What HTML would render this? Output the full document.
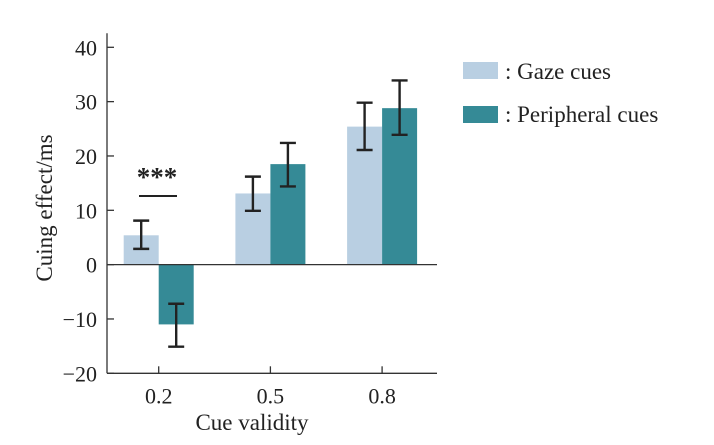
<!DOCTYPE html>
<html><head><meta charset="utf-8"><style>
html,body{margin:0;padding:0;background:#fff;}
svg{display:block;font-family:"Liberation Serif",serif;}
</style></head><body>
<svg id="chart" width="714" height="445" viewBox="0 0 714 445">
<g id="marks"></g>
<g id="axes"></g>
</svg>
<script>
const categories = ["0.2","0.5","0.8"];
const gazeValues = [5.4, 13.1, 25.4];
const gazeErrHi = [8.1, 16.2, 29.8];
const gazeErrLo = [2.9, 9.9, 21.1];
const periphValues = [-11.0, 18.5, 28.8];
const periphErrHi = [-7.2, 22.4, 33.9];
const periphErrLo = [-15.1, 14.4, 23.9];
const yTicks = [40,30,20,10,0,-10,-20];

const NS="http://www.w3.org/2000/svg";
const axisX=107, yMin=-20, yMax=40, yTop=47.3, yBot=373.3;
function y(v){return yBot-(v-yMin)/(yMax-yMin)*(yBot-yTop);}
const cat0=158.7, catStep=111.7;
function xc(i){return cat0+i*catStep;}
const bw=35;
const marks=document.getElementById('marks'), axes=document.getElementById('axes');
function mk(tag,attrs,parent){const e=document.createElementNS(NS,tag);for(const k in attrs)e.setAttribute(k,attrs[k]);parent.appendChild(e);return e;}

function bar(i,v,hi,lo,left,color,name){
  const x0=left?xc(i)-bw:xc(i);
  const r=mk('rect',{x:x0,y:Math.min(y(v),y(0)),width:bw,height:Math.abs(y(v)-y(0)),fill:color},marks);
  
  
  const cx=x0+bw/2;
  const g=mk('g',{stroke:'#222','stroke-width':2.4},marks);
  
  
  mk('line',{x1:cx,x2:cx,y1:y(hi),y2:y(lo)},g);
  mk('line',{x1:cx-8,x2:cx+8,y1:y(hi),y2:y(hi)},g);
  mk('line',{x1:cx-8,x2:cx+8,y1:y(lo),y2:y(lo)},g);
}
categories.forEach((c,i)=>{
  bar(i,gazeValues[i],gazeErrHi[i],gazeErrLo[i],true,'#b9cfe2','gaze');
  bar(i,periphValues[i],periphErrHi[i],periphErrLo[i],false,'#358a96','peripheral');
});

let l=mk('line',{x1:axisX,x2:axisX,y1:y(40)-14,y2:yBot,stroke:'#333','stroke-width':1.3},axes);

l=mk('line',{x1:axisX,x2:437,y1:yBot,y2:yBot,stroke:'#333','stroke-width':1.3},axes);

l=mk('line',{x1:axisX,x2:437,y1:y(0),y2:y(0),stroke:'#333','stroke-width':1.3},axes);

yTicks.forEach(t=>{
  mk('line',{x1:axisX,x2:axisX+7,y1:y(t),y2:y(t),stroke:'#333','stroke-width':1.3},axes);
  const tx=mk('text',{x:axisX-10,y:y(t)+8,'text-anchor':'end','font-size':22,fill:'#222'},axes);
  tx.textContent=(t<0?'\u2212'+(-t):t);
  
  
});
categories.forEach((c,i)=>{
  mk('line',{x1:xc(i),x2:xc(i),y1:yBot,y2:yBot-7,stroke:'#333','stroke-width':1.3},axes);
  const tx=mk('text',{x:xc(i),y:yBot+30,'text-anchor':'middle','font-size':22,fill:'#222'},axes);
  tx.textContent=c;
  
  
});
</script>
<script>
const s=document.getElementById('chart');
s.insertAdjacentHTML('beforeend',`
<text x="252" y="430" text-anchor="middle" font-size="23" fill="#222">Cue validity</text>
<text transform="translate(52,208) rotate(-90)" text-anchor="middle" font-size="23" fill="#222">Cuing effect/ms</text>
<line x1="139" x2="177" y1="196" y2="196" stroke="#222" stroke-width="2"/>
<text x="157" y="186" text-anchor="middle" font-size="27" font-weight="bold" fill="#222">***</text>
<g>
<rect x="463" y="62" width="35" height="17" fill="#b9cfe2"/>
<text x="505" y="79" font-size="23" fill="#222">: Gaze cues</text>
<rect x="463" y="106" width="35" height="17" fill="#358a96"/>
<text x="505" y="122" font-size="23" fill="#222">: Peripheral cues</text>
</g>`);
</script>
</body></html>
